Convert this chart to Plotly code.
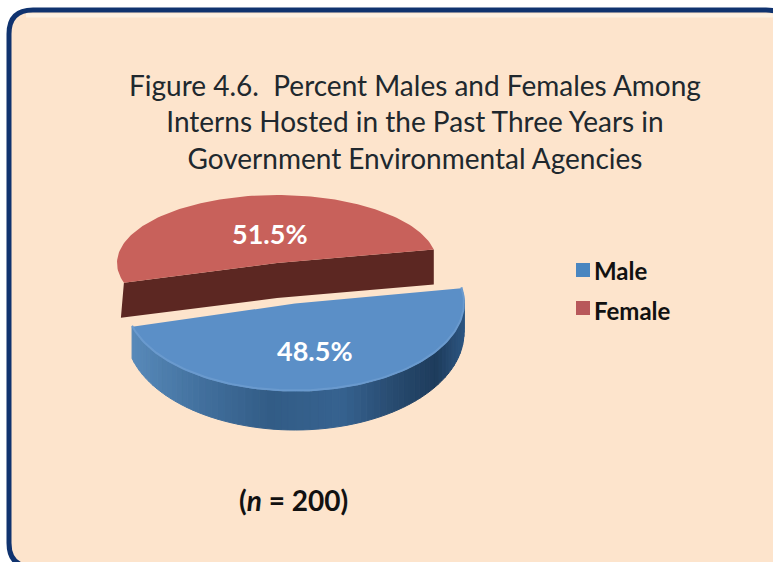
import math
import plotly.graph_objects as go

# ---- data ----
categories = ["Male", "Female"]
percents = [48.5, 51.5]
n_label = "(<i>n</i> = 200)"
title_lines = [
    "Figure 4.6.\u00a0\u00a0Percent Males and Females Among",
    "Interns Hosted in the Past Three Years in",
    "Government Environmental Agencies",
]

FONT = "Lato, Carlito, Calibri, sans-serif"
W, H = 773, 562


def pts(cx, cy, a, b, start, span, step=1.5, depth=None):
    n = max(2, int(abs(span) / step))
    out = []
    for i in range(n + 1):
        t = math.radians(start + span * i / n)
        dy = depth(t) if depth else 0
        out.append((cx + a * math.cos(t), cy + b * math.sin(t) + dy))
    return out


def poly(p, color, line=None, lw=0):
    return go.Scatter(
        x=[q[0] for q in p] + [p[0][0]], y=[q[1] for q in p] + [p[0][1]],
        mode="lines", fill="toself", fillcolor=color,
        line=dict(color=line or color, width=lw), hoverinfo="skip", showlegend=False,
    )


def mix(c1, c2, f):
    return "#%02x%02x%02x" % tuple(round(c1[i] + (c2[i] - c1[i]) * f) for i in range(3))


wall_stops = [
    (130, (88, 138, 186)), (200, (66, 112, 158)), (270, (50, 92, 134)),
    (340, (54, 98, 144)), (400, (38, 72, 108)), (435, (30, 60, 92)), (466, (46, 88, 132)),
]


def wall_color(x):
    for (x0, c0), (x1, c1) in zip(wall_stops, wall_stops[1:]):
        if x <= x1:
            return mix(c0, c1, max(0, (x - x0) / (x1 - x0)))
    return mix(wall_stops[-1][1], wall_stops[-1][1], 0)


def male_depth(t):
    return 29 + 9.5 * max(0.0, math.sin(t))


fig = go.Figure()
male_span = 360 * percents[0] / sum(percents)
female_span = 360 * percents[1] / sum(percents)

# Female slice (upper, counter-clockwise on screen)
F = dict(cx=277, cy=263, a=160, b=68)
F_D = 35
f_arc = pts(F["cx"], F["cy"], F["a"], F["b"], -11.5, -female_span)
centre_f = (F["cx"], F["cy"])
f_right, f_left = f_arc[0], f_arc[-1]
fig.add_trace(poly(
    [f_left, centre_f, f_right, (f_right[0], f_right[1] + F_D),
     (centre_f[0], centre_f[1] + F_D), (f_left[0] - 3, f_left[1] + F_D)],
    "#5c2722"))
fig.add_trace(poly(f_arc + [centre_f], "#c8615b"))

# Male slice (lower, clockwise on screen)
M = dict(cx=295, cy=303.5, a=169, b=88)
m_start = -10
steps = 70
for i in range(steps):
    s0 = m_start + male_span * i / steps
    s1 = m_start + male_span * (i + 1) / steps
    top = pts(M["cx"], M["cy"], M["a"], M["b"], s0, s1 - s0, step=1)
    bot = pts(M["cx"], M["cy"], M["a"], M["b"], s1, s0 - s1, step=1, depth=male_depth)
    col = wall_color((top[0][0] + top[-1][0]) / 2)
    fig.add_trace(poly(top + bot, col, lw=1))
m_arc = pts(M["cx"], M["cy"], M["a"], M["b"], m_start, male_span)
fig.add_trace(poly(m_arc + [(M["cx"], M["cy"])], "#5b8fc7"))
# soft bevel on the front rim
fig.add_trace(go.Scatter(
    x=[p[0] for p in m_arc], y=[p[1] - 1 for p in m_arc], mode="lines",
    line=dict(color="#6a9ace", width=2), hoverinfo="skip", showlegend=False,
))

# Legend entries
leg_colors = {"Male": "#4a86c0", "Female": "#b8585a"}
marker_y = {"Male": 270, "Female": 308}
text_y = {"Male": 274, "Female": 314}
for name in categories:
    fig.add_trace(go.Scatter(
        x=[583], y=[marker_y[name]], mode="markers", name=name,
        marker=dict(symbol="square", size=14, color=leg_colors[name]),
        hoverinfo="skip", showlegend=False,
    ))
    fig.add_trace(go.Scatter(
        x=[594], y=[text_y[name]], mode="text",
        text=[f"<b>{name}</b>"], textposition="middle right",
        textfont=dict(family=FONT, size=24, color="#111111"),
        hoverinfo="skip", showlegend=False,
    ))

r = 24
x0, y0, x1, y1 = 9, 10, 790, 567
card = (f"M{x0+r},{y0} L{x1-r},{y0} Q{x1},{y0} {x1},{y0+r} L{x1},{y1-r} Q{x1},{y1} {x1-r},{y1} "
        f"L{x0+r},{y1} Q{x0},{y1} {x0},{y1-r} L{x0},{y0+r} Q{x0},{y0} {x0+r},{y0} Z")

fig.update_layout(
    width=W, height=H, margin=dict(l=0, r=0, t=0, b=0),
    paper_bgcolor="white", plot_bgcolor="rgba(0,0,0,0)", showlegend=False,
    xaxis=dict(range=[0, W], visible=False, fixedrange=True),
    yaxis=dict(range=[H, 0], visible=False, fixedrange=True),
    shapes=[
        dict(type="path", path=card, xref="x", yref="y", layer="below",
             fillcolor="#fde4cc", line=dict(color="#10336f", width=5)),
        dict(type="line", xref="x", yref="y", x0=26, x1=773, y0=15.5, y1=15.5, layer="below",
             line=dict(color="#fef1e2", width=4)),
    ],
    annotations=[
        dict(x=415, y=121.5, xref="x", yref="y", showarrow=False, align="center",
             text="<br>".join(title_lines),
             font=dict(family=FONT, size=28, color="#20282e")),
        dict(x=270, y=233, xref="x", yref="y", showarrow=False,
             text=f"<b>{percents[1]}%</b>", font=dict(family=FONT, size=27, color="white")),
        dict(x=315, y=350, xref="x", yref="y", showarrow=False,
             text=f"<b>{percents[0]}%</b>", font=dict(family=FONT, size=27, color="white")),
        dict(x=293, y=500, xref="x", yref="y", showarrow=False,
             text=f"<b>{n_label}</b>", font=dict(family=FONT, size=28, color="#111111")),
    ],
)
fig.write_html("out.html", config={"displayModeBar": False},
               post_script="document.body.style.margin='0';document.body.style.overflow='hidden';")
